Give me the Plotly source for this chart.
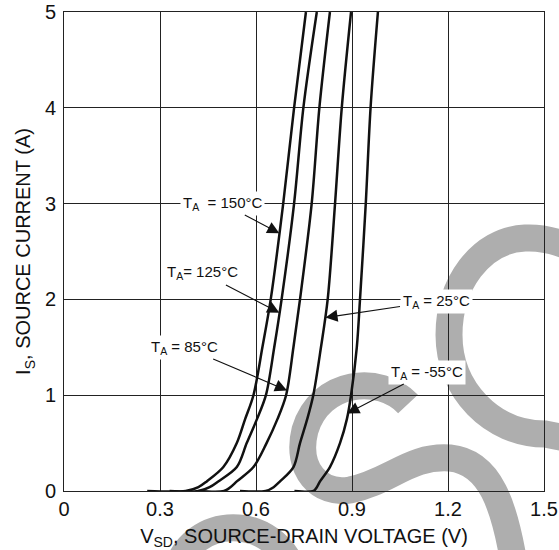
import plotly.graph_objects as go

# ---- data ----
temps = ["150°C", "125°C", "85°C", "25°C", "-55°C"]

vsd_150 = [0.26, 0.38, 0.42, 0.446, 0.498, 0.540, 0.566, 0.592, 0.620, 0.646, 0.685, 0.719, 0.756]
is_150 = [0.0, 0.0, 0.04, 0.1, 0.25, 0.5, 0.75, 1.0, 1.5, 2.0, 3.0, 4.0, 5.0]

vsd_125 = [0.33, 0.42, 0.455, 0.482, 0.540, 0.571, 0.603, 0.631, 0.657, 0.680, 0.719, 0.748, 0.790]
is_125 = [0.0, 0.0, 0.04, 0.1, 0.25, 0.5, 0.75, 1.0, 1.5, 2.0, 3.0, 4.0, 5.0]

vsd_85 = [0.42, 0.50, 0.52, 0.540, 0.592, 0.633, 0.667, 0.694, 0.717, 0.7375, 0.774, 0.798, 0.831]
is_85 = [0.0, 0.0, 0.04, 0.1, 0.25, 0.5, 0.75, 1.0, 1.5, 2.0, 3.0, 4.0, 5.0]

vsd_25 = [0.55, 0.63, 0.655, 0.675, 0.717, 0.7375, 0.760, 0.779, 0.803, 0.824, 0.847, 0.868, 0.897]
is_25 = [0.0, 0.0, 0.04, 0.1, 0.25, 0.5, 0.75, 1.0, 1.5, 2.0, 3.0, 4.0, 5.0]

vsd_m55 = [0.72, 0.78, 0.79, 0.80, 0.831, 0.8625, 0.884, 0.897, 0.915, 0.925, 0.943, 0.958, 0.981]
is_m55 = [0.0, 0.0, 0.04, 0.1, 0.25, 0.5, 0.75, 1.0, 1.5, 2.0, 3.0, 4.0, 5.0]

x_ticks = [0, 0.3, 0.6, 0.9, 1.2, 1.5]
x_ticklabels = ["0", "0.3", "0.6", "0.9", "1.2", "1.5"]
y_ticks = [0, 1, 2, 3, 4, 5]

# annotation label text, label position (data), arrow tip (data)
label_texts = ["T<sub>A</sub>\u00a0\u00a0= 150°C", "T<sub>A</sub>= 125°C", "T<sub>A</sub> = 85°C",
               "T<sub>A</sub> = 25°C", "T<sub>A</sub> = -55°C"]
label_x = [0.494, 0.434, 0.378, 1.1625, 1.134]
label_y = [3.006, 2.276, 1.503, 1.983, 1.242]
tip_x = [0.673, 0.673, 0.697, 0.817, 0.885]
tip_y = [2.69, 1.86, 1.05, 1.81, 0.81]

FONT = "Liberation Sans, Arial, sans-serif"

fig = go.Figure()
series = [(vsd_150, is_150), (vsd_125, is_125), (vsd_85, is_85), (vsd_25, is_25), (vsd_m55, is_m55)]
for name, (xs, ys) in zip(temps, series):
    fig.add_trace(go.Scatter(x=xs, y=ys, mode="lines", name=name,
                             line=dict(color="#111111", width=2.5, shape="spline", smoothing=0.9),
                             showlegend=False, hoverinfo="skip"))

# ---- gray watermark (decorative): pixel positions on the page, mapped to paper ----
L, T, W, H = 64, 12, 480, 479


def pp(px, py):
    return f"{(px - L) / W:.4f},{(T + H - py) / H:.4f}"


def path(cmds):
    out = []
    for c in cmds:
        op, pts = c[0], c[1:]
        out.append(op + " " + " ".join(pp(pts[i], pts[i + 1]) for i in range(0, len(pts), 2)))
    return " ".join(out)


wm_color = "#AEAEAE"
wm_paths = [
    path([("M", 585, 255), ("C", 565, 243, 545, 237, 525, 238), ("C", 480, 240, 449, 285, 449, 335),
          ("C", 449, 390, 492, 434, 545, 434), ("L", 585, 442)]),
    path([("M", 408, 404), ("C", 380, 374, 320, 380, 305, 430), ("C", 295, 470, 320, 495, 350, 490),
          ("C", 390, 482, 410, 455, 450, 458), ("C", 490, 462, 505, 505, 515, 570)]),
    path([("M", 175, 575), ("C", 190, 512, 275, 512, 295, 575)]),
]
shapes = [dict(type="path", xref="paper", yref="paper", path=p, layer="below",
               line=dict(color=wm_color, width=27), fillcolor="rgba(0,0,0,0)") for p in wm_paths]

annotations = []
for txt, lx, ly, tx, ty in zip(label_texts, label_x, label_y, tip_x, tip_y):
    annotations.append(dict(x=tx, y=ty, xref="x", yref="y", ax=lx, ay=ly, axref="x", ayref="y",
                            text=txt, showarrow=True, arrowhead=2, arrowsize=2.2, arrowwidth=1.1,
                            arrowcolor="#111111", bgcolor="white", borderpad=2,
                            font=dict(family=FONT, size=15, color="#111111")))

fig.update_layout(
    width=559, height=550,
    margin=dict(l=64, r=15, t=12, b=59, autoexpand=False),
    paper_bgcolor="white", plot_bgcolor="white",
    font=dict(family=FONT, color="#111111"),
    shapes=shapes,
    annotations=annotations,
    xaxis=dict(range=[0, 1.5], tickvals=x_ticks, ticktext=x_ticklabels, automargin=False,
               showgrid=True, gridcolor="#222222", gridwidth=1, zeroline=False,
               showline=True, linecolor="#222222", linewidth=1, mirror=True,
               ticks="", ticklabeloverflow="allow",
               tickfont=dict(family=FONT, size=20, color="#111111"),
               title=dict(text="V<sub>SD</sub>, SOURCE-DRAIN VOLTAGE (V)", standoff=10,
                          font=dict(family=FONT, size=20, color="#111111"))),
    yaxis=dict(range=[0, 5], tickvals=y_ticks, automargin=False,
               showgrid=True, gridcolor="#222222", gridwidth=1, zeroline=False,
               showline=True, linecolor="#222222", linewidth=1, mirror=True,
               ticks="outside", ticklen=3, tickcolor="rgba(0,0,0,0)", ticklabeloverflow="allow",
               tickfont=dict(family=FONT, size=20, color="#111111"),
               title=dict(text="I<sub>S</sub>, SOURCE CURRENT (A)", standoff=8,
                          font=dict(family=FONT, size=20, color="#111111"))),
)

# remove the browser's default 8px body margin so the 559x550 figure fills the window
fig.write_html("out.html", config={"displayModeBar": False},
               post_script="document.body.style.margin='0';")
